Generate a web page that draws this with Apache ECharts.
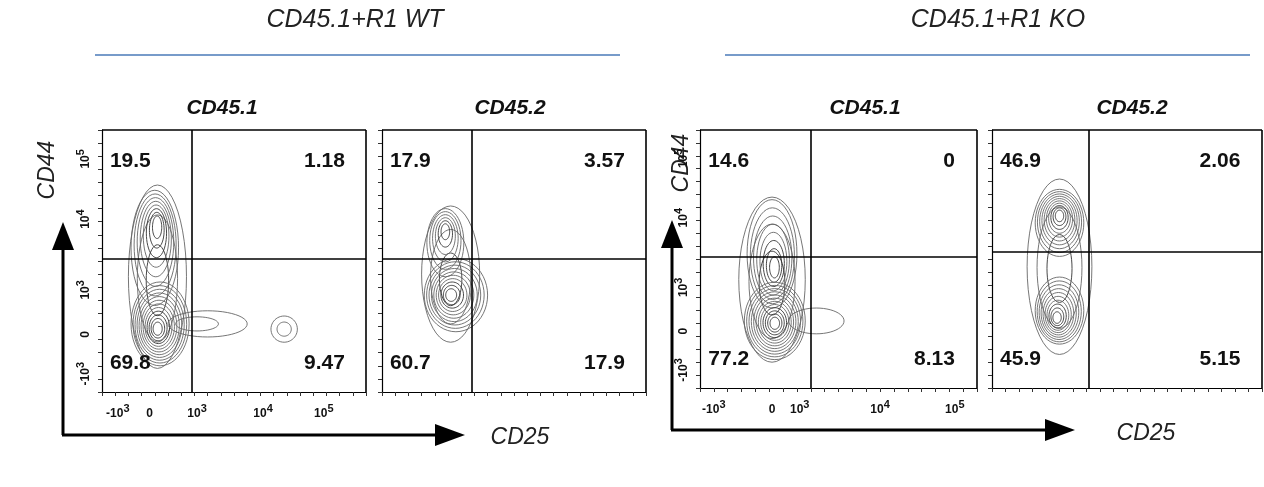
<!DOCTYPE html>
<html><head><meta charset="utf-8">
<script src="https://cdn.jsdelivr.net/npm/echarts@6/dist/echarts.min.js"></script>
<style>html,body{margin:0;background:#fff}#c{width:1264px;height:487px}</style>
</head><body><div id="c"></div>
<script>
const groupTitles = ['CD45.1+R1 WT', 'CD45.1+R1 KO'];
const panelTitles = ['CD45.1', 'CD45.2', 'CD45.1', 'CD45.2'];
// quadrant percentages: [UL, UR, LL, LR]
const quadrantValues = [
  ['19.5', '1.18', '69.8', '9.47'],
  ['17.9', '3.57', '60.7', '17.9'],
  ['14.6', '0', '77.2', '8.13'],
  ['46.9', '2.06', '45.9', '5.15']
];
// gate positions (fraction of axis)
const gateX = [0.34, 0.34, 0.40, 0.36];
const gateY = [0.51, 0.51, 0.51, 0.53];
// contour blobs: [cx, cy, rx, ry, rings, focusX, focusY]
const blobs = [
  [[0.21,0.44,0.11,0.35,3,0.21,0.42],[0.20,0.55,0.09,0.22,8,0.21,0.64],[0.22,0.26,0.11,0.16,12,0.21,0.24],[0.40,0.26,0.15,0.05,2,0.32,0.26],[0.69,0.24,0.05,0.05,2,0.69,0.24]],
  [[0.26,0.45,0.11,0.26,3,0.26,0.42],[0.24,0.57,0.07,0.13,6,0.24,0.62],[0.28,0.37,0.12,0.14,10,0.26,0.37]],
  [[0.26,0.42,0.12,0.32,3,0.26,0.40],[0.26,0.52,0.09,0.21,8,0.27,0.46],[0.27,0.26,0.11,0.15,12,0.27,0.25],[0.42,0.26,0.10,0.05,1,0.35,0.26]],
  [[0.25,0.47,0.12,0.34,3,0.25,0.46],[0.25,0.64,0.09,0.13,10,0.25,0.67],[0.25,0.30,0.09,0.13,10,0.24,0.27]]
];
const xTickLabels = ['-10{s|3}', '0', '10{s|3}', '10{s|4}', '10{s|5}'];
const xTickPos = [[0.06,0.18,0.36,0.61,0.84], null, [0.05,0.26,0.36,0.65,0.92], null];
const yTickLabels = ['10{s|5}', '10{s|4}', '10{s|3}', '0', '-10{s|3}'];
const yTickPos = [0.89, 0.66, 0.39, 0.22, 0.07];

const grids = [
  {left:102, top:130, width:264, height:262},
  {left:382, top:130, width:264, height:262},
  {left:700, top:130, width:277, height:258},
  {left:992, top:130, width:270, height:258}
];
const chart = echarts.init(document.getElementById('c'));
const series = [];
const xAxis = [], yAxis = [];
grids.forEach((g, i) => {
  const ax = {gridIndex:i, type:'value', min:0, max:1, interval:0.05,
    axisLine:{show:true, lineStyle:{color:'#000', width:1.2}},
    axisTick:{show:true, length:4, inside:false, lineStyle:{color:'#333'}},
    axisLabel:{show:false}, splitLine:{show:false}};
  xAxis.push(Object.assign({}, ax));
  yAxis.push(Object.assign({}, ax));
  series.push({type:'line', xAxisIndex:i, yAxisIndex:i, symbol:'none', silent:true,
    data:[[0,0]], lineStyle:{width:0},
    markLine:{silent:true, symbol:'none', label:{show:false},
      lineStyle:{color:'#000', width:1.6, type:'solid'},
      data:[{xAxis:gateX[i]}, {yAxis:gateY[i]}, {xAxis:1}, {yAxis:1}]}});
  series.push({type:'custom', xAxisIndex:i, yAxisIndex:i, silent:true, clip:true,
    data: blobs[i],
    renderItem:(params, api) => {
      const b = blobs[i][params.dataIndex];
      const [cx, cy, rx, ry, n, fx, fy] = b;
      const children = [];
      for (let k = 0; k < n; k++) {
        const t = k / n;
        const ccx = cx + (fx - cx) * t, ccy = cy + (fy - cy) * t;
        const rrx = rx * (1 - t * 0.92), rry = ry * (1 - t * 0.92);
        const pts = [];
        for (let a = 0; a < 48; a++) {
          const th = a / 48 * Math.PI * 2;
          pts.push(api.coord([ccx + rrx * Math.cos(th), ccy + rry * Math.sin(th)]));
        }
        children.push({type:'polygon', shape:{points:pts},
          style:{fill:'none', stroke: k > n*0.6 ? '#333' : '#666', lineWidth:0.9}});
      }
      return {type:'group', children};
    }});
  const q = quadrantValues[i];
  const ql = [[0.03,0.88,'left'],[0.92,0.88,'right'],[0.03,0.11,'left'],[0.92,0.11,'right']];
  series.push({type:'custom', xAxisIndex:i, yAxisIndex:i, silent:true, clip:false,
    data: q.map((v, k) => [ql[k][0], ql[k][1], k]),
    renderItem:(params, api) => {
      const k = params.dataIndex;
      const p = api.coord([ql[k][0], ql[k][1]]);
      return {type:'text', x:p[0], y:p[1], style:{text:q[k], fill:'#111',
        font:'bold 21px Arial, "Liberation Sans"', align:ql[k][2], verticalAlign:'middle'}};
    }});
  if (xTickPos[i]) {
    const xp = xTickPos[i];
    series.push({type:'custom', xAxisIndex:i, yAxisIndex:i, silent:true, clip:false,
      data: xp.map((v) => [v, 0]),
      renderItem:(params, api) => {
        const p = api.coord([xp[params.dataIndex], 0]);
        return {type:'text', x:p[0], y:p[1] + 22, style:{text:xTickLabels[params.dataIndex],
          rich:{s:{fontSize:11, fontWeight:'bold', padding:[0,0,10,0]}},
          font:'bold 12px Arial, "Liberation Sans"', fill:'#111', align:'center', verticalAlign:'middle'}};
      }});
    series.push({type:'custom', xAxisIndex:i, yAxisIndex:i, silent:true, clip:false,
      data: yTickPos.map((v) => [0, v]),
      renderItem:(params, api) => {
        const p = api.coord([0, yTickPos[params.dataIndex]]);
        return {type:'text', x:p[0] - 16, y:p[1], rotation:Math.PI/2,
          style:{text:yTickLabels[params.dataIndex],
          rich:{s:{fontSize:11, fontWeight:'bold', padding:[0,0,10,0]}},
          font:'bold 12px Arial, "Liberation Sans"', fill:'#111', align:'center', verticalAlign:'middle'}};
      }});
  }
});

const italic = 'italic 25px Arial, "Liberation Sans"';
const graphic = [
  {type:'text', x:355, y:20, style:{text:groupTitles[0], font:italic, fill:'#222', align:'center', verticalAlign:'middle'}},
  {type:'text', x:998, y:20, style:{text:groupTitles[1], font:italic, fill:'#222', align:'center', verticalAlign:'middle'}},
  {type:'line', shape:{x1:95, y1:55, x2:620, y2:55}, style:{stroke:'#4a7ab8', lineWidth:1.5}},
  {type:'line', shape:{x1:725, y1:55, x2:1250, y2:55}, style:{stroke:'#4a7ab8', lineWidth:1.5}},
  {type:'line', shape:{x1:63, y1:435, x2:63, y2:245}, style:{stroke:'#000', lineWidth:3}},
  {type:'polygon', shape:{points:[[52,250],[74,250],[63,222]]}, style:{fill:'#000'}},
  {type:'line', shape:{x1:62, y1:435, x2:440, y2:435}, style:{stroke:'#000', lineWidth:3}},
  {type:'polygon', shape:{points:[[435,424],[435,446],[465,435]]}, style:{fill:'#000'}},
  {type:'text', x:48, y:170, rotation:Math.PI/2, style:{text:'CD44', font:'italic 23px Arial, "Liberation Sans"', fill:'#222', align:'center', verticalAlign:'middle'}},
  {type:'text', x:520, y:438, style:{text:'CD25', font:'italic 23px Arial, "Liberation Sans"', fill:'#222', align:'center', verticalAlign:'middle'}},
  {type:'line', shape:{x1:672, y1:430, x2:672, y2:243}, style:{stroke:'#000', lineWidth:3}},
  {type:'polygon', shape:{points:[[661,248],[683,248],[672,220]]}, style:{fill:'#000'}},
  {type:'line', shape:{x1:671, y1:430, x2:1050, y2:430}, style:{stroke:'#000', lineWidth:3}},
  {type:'polygon', shape:{points:[[1045,419],[1045,441],[1075,430]]}, style:{fill:'#000'}},
  {type:'text', x:682, y:163, rotation:Math.PI/2, style:{text:'CD44', font:'italic 23px Arial, "Liberation Sans"', fill:'#222', align:'center', verticalAlign:'middle'}},
  {type:'text', x:1146, y:434, style:{text:'CD25', font:'italic 23px Arial, "Liberation Sans"', fill:'#222', align:'center', verticalAlign:'middle'}}
];
const panelCenters = [222, 510, 865, 1132];
panelTitles.forEach((t, i) => graphic.push({type:'text', x:panelCenters[i], y:108,
  style:{text:t, font:'italic bold 21px Arial, "Liberation Sans"', fill:'#111', align:'center', verticalAlign:'middle'}}));

chart.setOption({animation:false, grid:grids, xAxis, yAxis, series, graphic});
</script></body></html>
